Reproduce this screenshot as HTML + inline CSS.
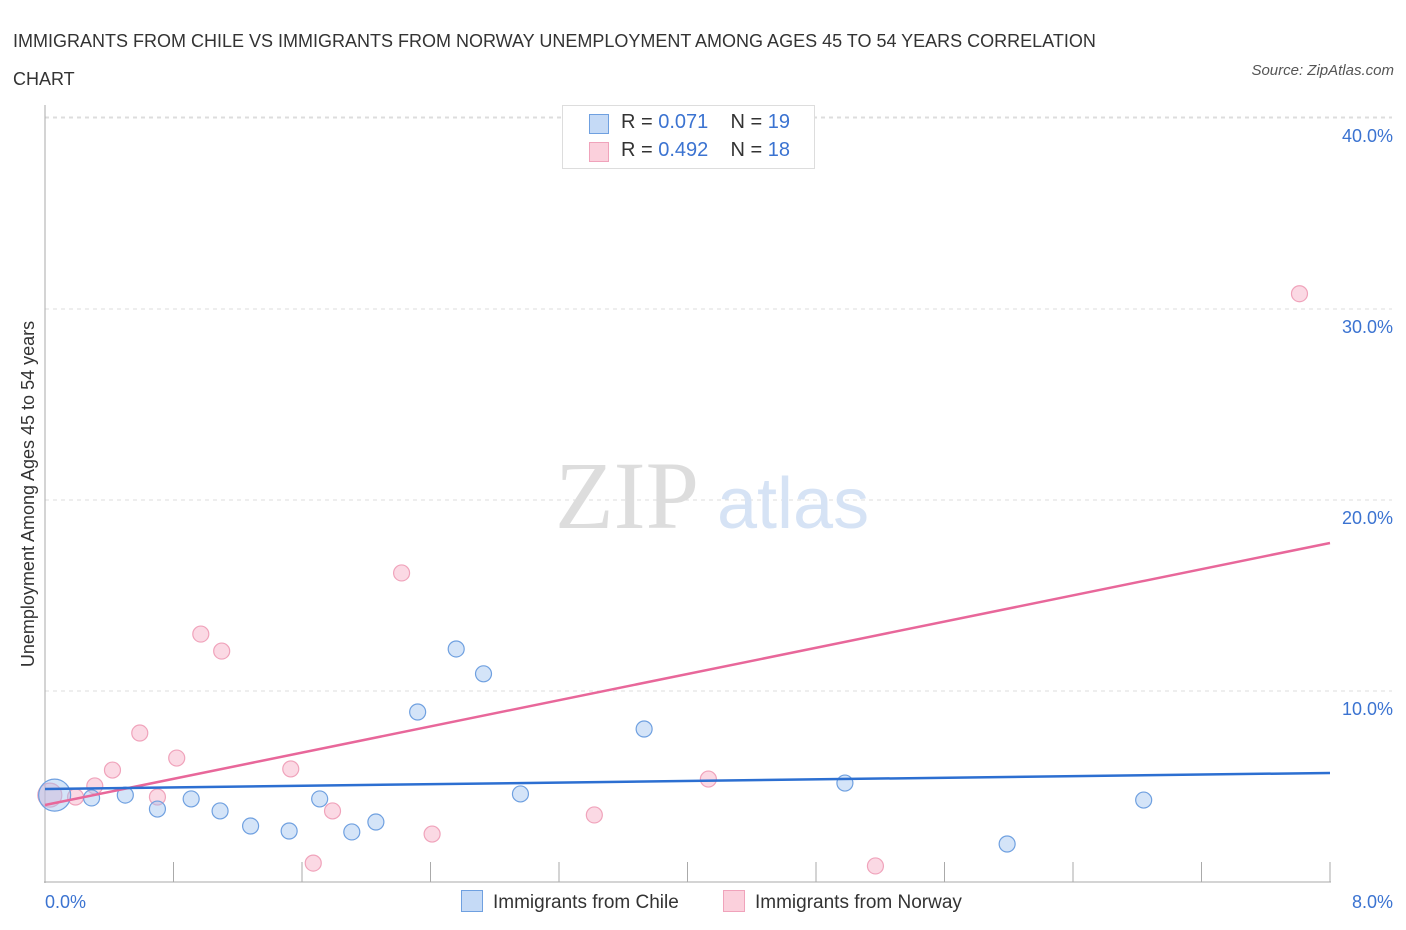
<!DOCTYPE html>
<html><head><meta charset="utf-8"><style>
body{margin:0;background:#fff;font-family:"Liberation Sans",sans-serif;}
#c{position:relative;width:1406px;height:930px;overflow:hidden}
.t{position:absolute;white-space:nowrap}
</style></head><body><div id="c">
<div class="t" style="left:13px;top:22px;font-size:18px;color:#333;line-height:38px">IMMIGRANTS FROM CHILE VS IMMIGRANTS FROM NORWAY UNEMPLOYMENT AMONG AGES 45 TO 54 YEARS CORRELATION<br>CHART</div>
<div class="t" style="right:12px;top:62px;font-size:15px;color:#555;font-style:italic">Source: ZipAtlas.com</div>
<svg id="s" width="1406" height="930" style="position:absolute;left:0;top:0"></svg>
</div>
<script>
const blueX=[0.06,0.29,0.50,0.70,0.91,1.09,1.28,1.52,1.71,1.91,2.06,2.32,2.56,2.73,2.96,3.73,4.98,5.99,6.84];
const blueY=[4.55,4.40,4.55,3.82,4.35,3.72,2.93,2.67,4.35,2.62,3.14,8.9,12.2,10.9,4.61,8.01,5.18,1.99,4.29];
const pinkX=[0.03,0.19,0.31,0.42,0.59,0.70,0.82,0.97,1.10,1.53,1.67,1.79,2.22,2.41,3.42,4.13,5.17,7.81];
const pinkY=[4.55,4.45,5.03,5.86,7.80,4.45,6.49,12.98,12.09,5.92,0.99,3.72,16.18,2.51,3.51,5.39,0.84,30.8];
const blueTrend=[4.87,5.71];
const pinkTrend=[4.03,17.75];
const yTicks=[10,20,30,40];
const yTickLabels=["10.0%","20.0%","30.0%","40.0%"];
const xs=v=>45+v/8*1285, ys=v=>882-v*19.1;
const s=document.getElementById('s'),N='http://www.w3.org/2000/svg';
function mk(t,a,txt){const e=document.createElementNS(N,t);for(const k in a)e.setAttribute(k,a[k]);if(txt)e.textContent=txt;s.appendChild(e);return e;}
let e;
e=mk('line',{x1:45,y1:117,x2:1392,y2:117,stroke:'#ddd','stroke-dasharray':'4,4'});

yTicks.forEach((v,i)=>{
 e=mk('line',{x1:45,y1:ys(v),x2:1392,y2:ys(v),stroke:'#ddd','stroke-dasharray':'4,4'});
 
 e=mk('text',{x:1393,y:ys(v)+24,'text-anchor':'end','font-size':18,fill:'#3b73d1'},yTickLabels[i]);
 
});
e=mk('line',{x1:45,y1:105,x2:45,y2:883,stroke:'#aaa'});
e=mk('line',{x1:44,y1:882,x2:1331,y2:882,stroke:'#aaa'});
for(let i=1;i<=10;i++){e=mk('line',{x1:xs(i*0.8),y1:862,x2:xs(i*0.8),y2:882,stroke:'#aaa'});}
e=mk('text',{x:45,y:908,'font-size':18,fill:'#3b73d1'},'0.0%');
e=mk('text',{x:1393,y:908,'text-anchor':'end','font-size':18,fill:'#3b73d1'},'8.0%');
e=mk('text',{x:34,y:494,'text-anchor':'middle','font-size':18,fill:'#333',transform:'rotate(-90 34 494)'},'Unemployment Among Ages 45 to 54 years');
e=mk('text',{x:555,y:528,'font-size':96,fill:'#ddd','font-family':'Liberation Serif'},'ZIP');
e=mk('text',{x:717,y:528,'font-size':72,fill:'#d6e3f5'},'atlas');
pinkX.forEach((x,i)=>{e=mk('circle',{cx:xs(x),cy:ys(pinkY[i]),r:i==0?12:8,fill:'rgba(246,170,195,0.45)',stroke:'#f0a3bb','stroke-width':1.2});});
blueX.forEach((x,i)=>{e=mk('circle',{cx:xs(x),cy:ys(blueY[i]),r:i==0?16:8,fill:'rgba(160,195,240,0.45)',stroke:'#6fa0e0','stroke-width':1.2});});
e=mk('line',{x1:xs(0),y1:ys(pinkTrend[0]),x2:xs(8),y2:ys(pinkTrend[1]),stroke:'#e8679a','stroke-width':2.5});
e=mk('line',{x1:xs(0),y1:ys(blueTrend[0]),x2:xs(8),y2:ys(blueTrend[1]),stroke:'#2c6fd1','stroke-width':2.5});
</script>
<div class="t" style="left:562px;top:105px;width:251px;height:62px;border:1px solid #ddd;background:#fff;font-size:20px;color:#333">
 <div style="position:absolute;left:26px;top:8px;width:18px;height:18px;background:#c5daf6;border:1px solid #6fa0e0"></div>
 <div style="position:absolute;left:58px;top:5px">R = <span style="color:#3b73d1">0.071</span>&nbsp;&nbsp;&nbsp; N = <span style="color:#3b73d1">19</span></div>
 <div style="position:absolute;left:26px;top:36px;width:18px;height:18px;background:#fbd0dc;border:1px solid #f0a3bb"></div>
 <div style="position:absolute;left:58px;top:33px">R = <span style="color:#3b73d1">0.492</span>&nbsp;&nbsp;&nbsp; N = <span style="color:#3b73d1">18</span></div>
</div>
<div class="t" style="left:461px;top:890px;font-size:19px;color:#333"><span style="display:inline-block;width:20px;height:20px;background:#c5daf6;border:1px solid #6fa0e0;vertical-align:-4px;margin-right:10px"></span>Immigrants from Chile</div>
<div class="t" style="left:723px;top:890px;font-size:19px;color:#333"><span style="display:inline-block;width:20px;height:20px;background:#fbd0dc;border:1px solid #f0a3bb;vertical-align:-4px;margin-right:10px"></span>Immigrants from Norway</div>
</body></html>
